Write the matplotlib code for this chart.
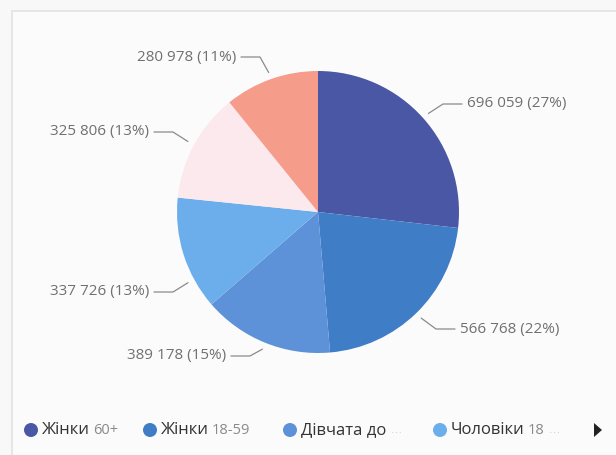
import numpy as np
import matplotlib
matplotlib.use("Agg")
import matplotlib.pyplot as plt
from matplotlib.patches import Rectangle, Circle, Polygon

W, H = 616, 455

# data
categories = ["Жінки 60+", "Жінки 18-59", "Дівчата до 18", "Чоловіки 18-59",
              "Чоловіки 60+", "Хлопці до 18"]
values = [696059, 566768, 389178, 337726, 325806, 280978]
colors = ["#4a57a5", "#3f7ec6", "#5d91d8", "#6caeec", "#fce9ee", "#f59c8b"]

# legend shows only the first four (rest scroll off)
legend_names = ["Жінки", "Жінки", "Дівчата до", "Чоловіки"]
legend_suffix = ["60+", "18-59", "", "18"]
legend_trunc = [False, False, True, True]

# label layout (pixel positions of the text anchor, alignment, leader angle shift)
label_pos = [(467, 104, "left", 0), (460, 329, "left", 0), (226, 356, "right", 0),
             (149, 292, "right", 11), (149, 132, "right", 0), (236, 57, "right", 0)]

center = (318, 212)
radius = 141


def Y(y):
    return H - y


fig = plt.figure(figsize=(W / 100, H / 100), dpi=100)
fig.patch.set_facecolor("#f8f8f8")
ax = fig.add_axes([0, 0, 1, 1])
ax.set_facecolor("#f8f8f8")

# card frame
ax.add_patch(Rectangle((12, Y(H + 5)), W, H - 6, facecolor="#fbfbfb",
                       edgecolor="#e2e2e2", lw=1.2, zorder=0))

wedges, _ = ax.pie(values, colors=colors, startangle=90, counterclock=False,
                   center=(center[0], Y(center[1])), radius=radius,
                   wedgeprops=dict(linewidth=0))

total = sum(values)
for w, v, (tx, ty, ha, shift) in zip(wedges, values, label_pos):
    mid = np.deg2rad((w.theta1 + w.theta2) / 2 + shift)
    ax_x = center[0] + (radius + 7) * np.cos(mid)
    ax_y = center[1] - (radius + 7) * np.sin(mid)
    sign = 1 if ha == "left" else -1
    x_end = tx - sign * 5
    x_bend = tx - sign * 24
    ax.plot([x_end, x_bend, ax_x], [Y(ty), Y(ty), Y(ax_y)], color="#8a8a8a",
            lw=0.9, solid_capstyle="round")
    label = f"{v:,}".replace(",", " ") + f" ({v / total:.0%})"
    ax.text(tx, Y(ty), label, ha=ha, va="center", fontsize=11,
            family="Open Sans", color="#707070")

# legend
leg_x = [31, 150, 290, 440]
leg_y = 430
for i, x in enumerate(leg_x):
    ax.add_patch(Circle((x, Y(leg_y)), 7, color=colors[i], lw=0))
    t = ax.text(x + 11, Y(leg_y), legend_names[i], ha="left", va="center",
                fontsize=12, family="Open Sans", color="#333333")
    if legend_suffix[i]:
        ax.annotate(legend_suffix[i], xy=(1, 0.5), xycoords=t,
                    xytext=(2, 0), textcoords="offset points",
                    ha="left", va="center", fontsize=10.5,
                    family="Open Sans", color="#8a8a8a")
        last = ax.texts[-1]
    else:
        last = t
    if legend_trunc[i]:
        ax.annotate("…", xy=(1, 0.5), xycoords=last, xytext=(3, 0),
                    textcoords="offset points", ha="left", va="center",
                    fontsize=8, color="#cccccc")

ax.add_patch(Polygon([[594, Y(leg_y - 7)], [594, Y(leg_y + 7)],
                      [602, Y(leg_y)]], closed=True, color="#222222", lw=0))

ax.set_xlim(0, W)
ax.set_ylim(0, H)
ax.set_aspect("equal")
ax.axis("off")

fig.savefig("out.png", dpi=100, facecolor=fig.get_facecolor())
